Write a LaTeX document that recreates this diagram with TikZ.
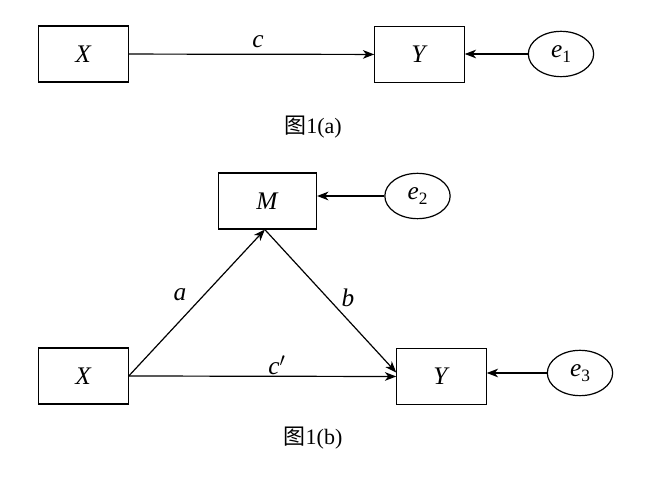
\documentclass[tikz,border=0pt]{standalone}
\usepackage{fontspec}
\setmainfont{Liberation Serif}[ItalicFont={Liberation Serif Italic}]
\newfontfamily\cjk{Noto Sans CJK SC}
\usetikzlibrary{arrows.meta,shapes.geometric}
\begin{document}
\begin{tikzpicture}[x=0.75pt,y=-0.75pt,
  font=\fontsize{19}{22}\selectfont,
  var/.style={draw,line width=0.9pt,minimum width=67pt,minimum height=42pt,inner sep=0pt},
  err/.style={draw,ellipse,line width=0.9pt,minimum width=49pt,minimum height=34pt,inner sep=0pt},
  arr/.style={line width=0.9pt,-{Stealth[length=8.5pt,width=6.5pt,inset=2.5pt]}},
  lbl/.style={inner sep=0pt},
  figcap/.style={font=\fontsize{16.5}{19}\selectfont}]
\useasboundingbox (0,0) rectangle (647,477);
% (a)
\node[var] (xa) at (83.5,54) {\textit{X}};
\node[var] (ya) at (419.5,54.5) {\textit{Y}};
\node[err] (e1) at (561,54) {\textit{e}\raisebox{-0.4ex}{\fontsize{13}{15}\selectfont 1}};
\draw[arr] (xa) -- (ya);
\draw[arr] (e1.west) -- (e1.west -| ya.east);
\node[lbl] (lc) at (258,42) {\textit{c}};
\node[figcap] (capa) at (313,127) {{\cjk 图}1(a)};
% (b)
\node[var,minimum width=73.5pt] (m) at (267.5,201) {\textit{M}};
\node[err] (e2) at (417.5,196) {\textit{e}\raisebox{-0.4ex}{\fontsize{13}{15}\selectfont 2}};
\node[var] (xb) at (83.5,376) {\textit{X}};
\node[var] (yb) at (441.5,376.5) {\textit{Y}};
\node[err] (e3) at (580,373) {\textit{e}\raisebox{-0.4ex}{\fontsize{13}{15}\selectfont 3}};
\coordinate (mt) at ([xshift=-2pt]m.south);
\coordinate (yt) at ([yshift=3pt]yb.west);
\draw[arr] (xb.east) -- (mt);
\draw[arr] (mt) -- (yt);
\draw[arr] (xb.east) -- (yb.west);
\draw[arr] (e2.west) -- (e2.west -| m.east);
\draw[arr] (e3.west) -- (e3.west -| yb.east);
\node[lbl] (la) at (180,295) {\textit{a}};
\node[lbl] (lb) at (348,298) {\textit{b}};
\node[lbl] (lcp) at (277,365) {\textit{c}$'$};
\node[figcap] (capb) at (313,438) {{\cjk 图}1(b)};
\end{tikzpicture}
\end{document}
